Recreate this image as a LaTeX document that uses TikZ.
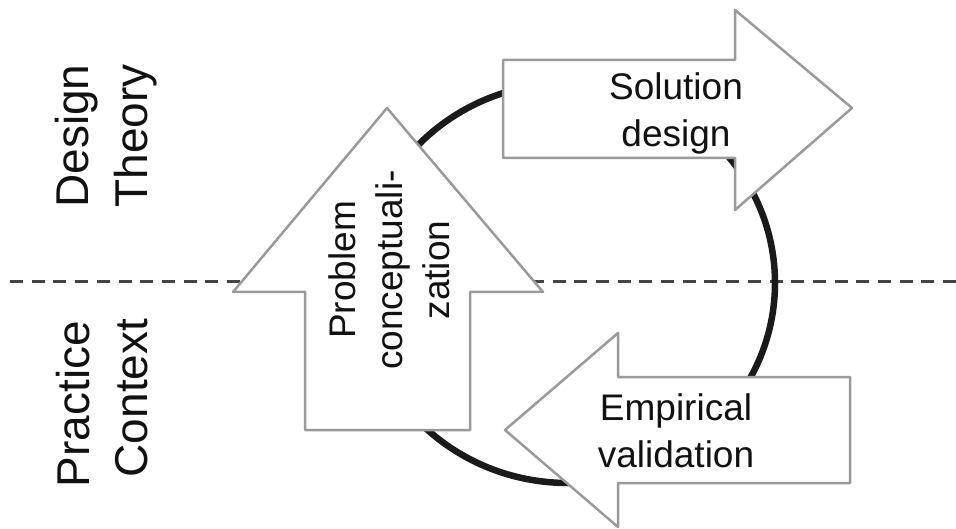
\documentclass[tikz,border=0pt]{standalone}
\usepackage{fontspec}
\setmainfont{Liberation Sans}
\definecolor{arrowgray}{HTML}{9A9A9A}
\definecolor{ringblack}{HTML}{1A1A1A}
\definecolor{dashgray}{HTML}{444444}
\definecolor{inkblack}{HTML}{111111}
\begin{document}
\begin{tikzpicture}[x=1pt,y=-1pt,
  phase/.style={draw=arrowgray, line width=2.5pt, fill=white, line join=round},
  ring/.style={draw=ringblack, line width=6.5pt},
  divider/.style={draw=dashgray, line width=3pt, dash pattern=on 13pt off 8.7pt},
  lbl/.style={inner sep=0pt, text=inkblack, anchor=base, font=\fontsize{37}{47}\selectfont},
  side/.style={inner sep=0pt, text=inkblack, anchor=base, rotate=90, font=\fontsize{46}{58}\selectfont}]
\useasboundingbox (0,0) rectangle (956,529);

% boundary between design theory and practice context
\coordinate (divL) at (10,282);
\coordinate (divR) at (956,282);
\draw[divider] (divL) -- (divR);

% research cycle
\coordinate (hub) at (568,283);
\draw[ring] (hub) ellipse[x radius=207pt, y radius=200pt];

% solution design (pointing right)
\draw[phase] (503,60) -- (735,60) -- (735,10) -- (852,108) -- (735,210)
  -- (735,158) -- (503,158) -- cycle;
% problem conceptualization (pointing up)
\draw[phase] (387,108) -- (543,292) -- (470,292) -- (470,430) -- (305,430)
  -- (305,292) -- (233,292) -- cycle;
% empirical validation (pointing left)
\draw[phase] (505,430) -- (618,333) -- (618,377) -- (850,377) -- (850,483)
  -- (618,483) -- (618,527) -- cycle;

% phase labels
\node[lbl] (sol1) at (676,100) {Solution};
\node[lbl] (sol2) at (676,147) {design};
\node[lbl] (emp1) at (676,420) {Empirical};
\node[lbl] (emp2) at (676,467) {validation};
\node[lbl, rotate=90] (pc1) at (355,270) {Problem};
\node[lbl, rotate=90] (pc2) at (402,270) {conceptuali-};
\node[lbl, rotate=90] (pc3) at (449,270) {zation};

% side labels
\node[side] (dt1) at (88,136) {Design};
\node[side] (dt2) at (147,136) {Theory};
\node[side] (pc4) at (89,404) {Practice};
\node[side] (pc5) at (147,398) {Context};
\end{tikzpicture}
\end{document}
